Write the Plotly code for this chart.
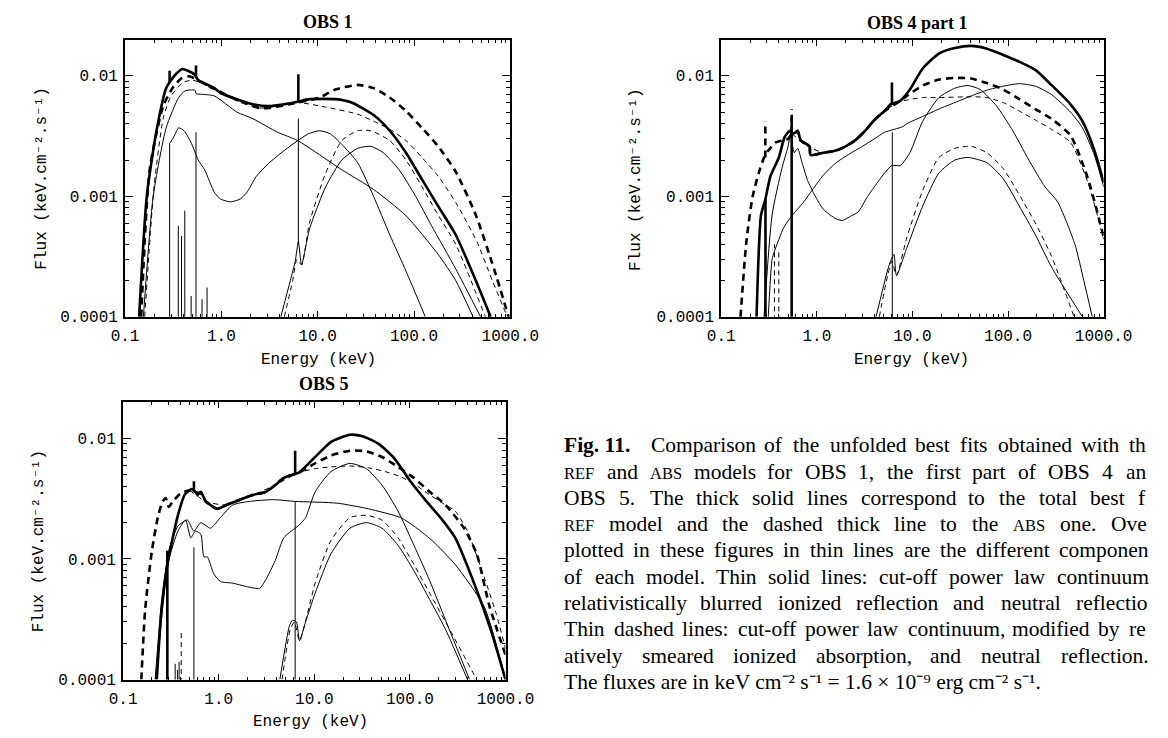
import math
import plotly.graph_objects as go

W, H = 1168, 738
FLOOR = 1e-5  # flux below the visible range (lines run off the bottom)

# ---------------- OBS 1 ----------------
obs1_ref_total_e = [0.14, 0.168, 0.212, 0.267, 0.30, 0.34, 0.392, 0.45, 0.53, 0.575, 0.68, 0.845, 0.98, 1.45, 2.13, 3.1, 4.5, 6.2, 8.25, 15.3, 22.4, 38.3, 56, 82.5, 121, 178, 271, 438, 624]
obs1_ref_total_f = [1e-4, 0.001, 0.0035, 0.0079, 0.0092, 0.0104, 0.0114, 0.0110, 0.0102, 0.0092, 0.0086, 0.0079, 0.0072, 0.0064, 0.0058, 0.0056, 0.0058, 0.0061, 0.0064, 0.0064, 0.0060, 0.0047, 0.0035, 0.0023, 0.00138, 0.00083, 0.00048, 0.0002, 0.0001]
obs1_abs_total_e = [0.147, 0.18, 0.247, 0.31, 0.39, 0.46, 0.53, 0.6, 0.845, 1.45, 2.5, 3.1, 4.5, 6.2, 8.25, 10.4, 15.3, 26, 38, 56, 82.5, 121, 178, 271, 438, 677, 960]
obs1_abs_total_f = [1e-4, 0.00166, 0.0055, 0.0079, 0.0096, 0.0099, 0.0095, 0.009, 0.0078, 0.0063, 0.0054, 0.0054, 0.0057, 0.006, 0.0063, 0.0066, 0.0077, 0.0084, 0.0079, 0.0066, 0.0051, 0.0037, 0.0026, 0.0016, 0.0007, 0.00025, 0.0001]
obs1_ref_pl_e = [0.155, 0.196, 0.267, 0.36, 0.42, 0.53, 0.55, 0.67, 0.85, 1.45, 2.13, 3.83, 6.2, 17.8, 38, 82.5, 178, 271, 410]
obs1_ref_pl_f = [1e-4, 0.001, 0.0037, 0.0066, 0.0075, 0.0076, 0.0071, 0.0070, 0.0068, 0.0050, 0.0044, 0.0034, 0.0029, 0.00166, 0.00114, 0.00069, 0.00033, 0.0002, 0.0001]
obs1_ref_ion_e = [0.29, 0.32, 0.36, 0.41, 0.49, 0.575, 0.67, 0.85, 0.98, 1.24, 1.57, 1.83, 2.3, 3.1, 4.5, 6.2, 8.0, 10.4, 13.5, 17.8, 26, 38, 56, 82.5, 131]
obs1_ref_ion_f = [0.00274, 0.0031, 0.0037, 0.0035, 0.00274, 0.0020, 0.00166, 0.00107, 0.00095, 0.0009, 0.00095, 0.00107, 0.00146, 0.00188, 0.0024, 0.0029, 0.0033, 0.0035, 0.0033, 0.0027, 0.0019, 0.0010, 0.00048, 0.00024, 0.0001]
obs1_ref_neu_e = [4.14, 5.2, 5.85, 6.3, 6.8, 8.25, 12.1, 17.8, 26, 35.5, 48, 70, 104, 152, 271, 491]
obs1_ref_neu_f = [1e-4, 0.0002, 0.00029, 0.00042, 0.00027, 0.00054, 0.0012, 0.002, 0.0025, 0.0026, 0.0023, 0.00166, 0.001, 0.00057, 0.00025, 0.0001]
obs1_abs_pl_e = [0.16, 0.2, 0.25, 0.3, 0.4, 0.5, 0.6, 0.85, 1.45, 2.5, 3.83, 6.2, 12.1, 26, 38, 56, 82.5, 121, 178, 271, 450, 650, 930]
obs1_abs_pl_f = [1e-4, 0.0012, 0.0045, 0.0068, 0.0088, 0.0092, 0.0088, 0.0076, 0.0062, 0.0054, 0.0056, 0.006, 0.0055, 0.0048, 0.0042, 0.0036, 0.0029, 0.0021, 0.00147, 0.00089, 0.00042, 0.0002, 0.0001]
obs1_abs_neu_e = [4.5, 5.5, 6.1, 6.8, 8.25, 12.1, 17.8, 26, 35.5, 56, 82.5, 121, 178, 271, 550]
obs1_abs_neu_f = [1e-4, 0.0002, 0.0003, 0.00027, 0.00061, 0.00156, 0.0029, 0.0035, 0.0035, 0.0029, 0.0020, 0.0012, 0.0007, 0.0004, 0.0001]
# narrow emission lines
obs1_thick_line_e = [0.29, 0.545, 6.3]
obs1_thick_line_base = [0.0088, 0.0098, 0.0061]
obs1_thick_line_top = [0.0110, 0.0122, 0.0103]
obs1_thin_line_e = [0.29, 0.357, 0.386, 0.417, 0.485, 0.545, 0.63, 0.71, 6.3]
obs1_thin_line_base = [FLOOR, FLOOR, FLOOR, FLOOR, FLOOR, FLOOR, FLOOR, FLOOR, 0.00040]
obs1_thin_line_top = [0.00274, 0.00057, 0.00047, 0.00076, 0.000149, 0.0034, 0.00014, 0.000175, 0.0044]

# ---------------- OBS 4 part 1 ----------------
obs4_ref_total_e = [0.234, 0.26, 0.29, 0.326, 0.40, 0.46, 0.52, 0.55, 0.6, 0.63, 0.68, 0.79, 0.84, 0.86, 1.17, 1.59, 2.0, 2.5, 3.2, 4.0, 5.1, 5.9, 7.45, 9.4, 12.8, 18.9, 27.8, 41, 60, 89, 131, 193, 284, 450, 600, 800, 1000]
obs4_ref_total_f = [1e-4, 0.00069, 0.00095, 0.00146, 0.0021, 0.0031, 0.0035, 0.0033, 0.0034, 0.0035, 0.0029, 0.0027, 0.0026, 0.0022, 0.0023, 0.0024, 0.0026, 0.0029, 0.0035, 0.0043, 0.0051, 0.0058, 0.0062, 0.0077, 0.0115, 0.0153, 0.0170, 0.0177, 0.0168, 0.0149, 0.0131, 0.0112, 0.0084, 0.0058, 0.0042, 0.0024, 0.0013]
obs4_abs_total_e = [0.159, 0.183, 0.213, 0.249, 0.28, 0.31, 0.37, 0.43, 0.50, 0.55, 0.6, 0.63, 0.68, 0.79, 0.84, 0.86, 1.17, 1.59, 2.0, 2.5, 3.2, 4.0, 5.1, 7.45, 8.7, 12.8, 18.9, 27.8, 41, 60, 89, 131, 193, 284, 450, 685, 1000]
obs4_abs_total_f = [1e-4, 0.00042, 0.001, 0.0016, 0.0021, 0.0024, 0.0028, 0.0029, 0.003, 0.0033, 0.0034, 0.0035, 0.0029, 0.0027, 0.0026, 0.0022, 0.0023, 0.0024, 0.0026, 0.0029, 0.0035, 0.0043, 0.0051, 0.0062, 0.0068, 0.0083, 0.0093, 0.0096, 0.0095, 0.0087, 0.0077, 0.0064, 0.0053, 0.0044, 0.0032, 0.0014, 0.00046]
obs4_ref_pl_e = [0.31, 0.34, 0.36, 0.45, 0.54, 0.73, 0.86, 1.17, 1.59, 2.3, 3.0, 4.0, 5.1, 6.5, 8.0, 8.7, 12.8, 18.9, 27.8, 41, 60, 89, 131, 193, 284, 450, 600, 800, 1000]
obs4_ref_pl_f = [1e-4, 0.0003, 0.00035, 0.00055, 0.00068, 0.0009, 0.00108, 0.0015, 0.0019, 0.0023, 0.0026, 0.0030, 0.0034, 0.0036, 0.0038, 0.0040, 0.0046, 0.0053, 0.0060, 0.0068, 0.0076, 0.0082, 0.0086, 0.0082, 0.0070, 0.0050, 0.0037, 0.0022, 0.0012]
obs4_ref_ion_e = [0.28, 0.34, 0.43, 0.50, 0.53, 0.58, 0.63, 0.70, 0.80, 0.86, 0.92, 1.17, 1.59, 1.85, 2.3, 2.7, 3.4, 4.3, 5.1, 6.1, 7.45, 9.4, 12.8, 18.9, 27.8, 38, 51, 76, 112, 165, 243, 330, 500, 620, 760]
obs4_ref_ion_f = [1e-4, 0.0007, 0.0017, 0.0026, 0.0033, 0.0023, 0.0025, 0.0019, 0.00135, 0.0012, 0.00107, 0.00078, 0.00065, 0.00063, 0.00069, 0.00074, 0.0010, 0.0013, 0.00156, 0.0018, 0.0018, 0.0023, 0.0042, 0.0066, 0.0079, 0.0083, 0.0077, 0.0056, 0.0035, 0.0020, 0.0012, 0.0009, 0.0004, 0.0002, 0.0001]
obs4_ref_neu_e = [4.16, 5.46, 5.9, 6.4, 6.8, 8.7, 12.8, 18.9, 27.8, 38, 60, 89, 131, 193, 284, 600]
obs4_ref_neu_f = [1e-4, 0.00024, 0.00029, 0.00033, 0.00022, 0.00037, 0.00083, 0.00156, 0.0020, 0.0021, 0.0019, 0.0014, 0.00083, 0.00048, 0.00026, 0.0001]
obs4_abs_pl_e = [0.55, 0.8, 1.2, 2.0, 3.2, 5.1, 7.45, 12.8, 18.9, 41, 60, 89, 131, 193, 284, 450, 685, 1000]
obs4_abs_pl_f = [0.0033, 0.0026, 0.0023, 0.0026, 0.0035, 0.0051, 0.0061, 0.0066, 0.0066, 0.0067, 0.0066, 0.0060, 0.0051, 0.0043, 0.0036, 0.0028, 0.0013, 0.00044]
obs4_abs_neu_e = [4.5, 5.5, 6.1, 6.8, 8.7, 12.8, 18.9, 27.8, 41, 60, 89, 131, 193, 284, 490]
obs4_abs_neu_f = [1e-4, 0.00022, 0.00029, 0.00022, 0.00045, 0.00112, 0.0021, 0.0025, 0.0026, 0.0023, 0.0017, 0.00103, 0.0006, 0.00032, 0.0001]
obs4_thick_line_e = [0.29, 0.545, 6.1]
obs4_thick_line_base = [FLOOR, FLOOR, 0.0058]
obs4_thick_line_top = [0.00095, 0.0045, 0.0088]
obs4_dash_line_e = [0.289, 0.545]
obs4_dash_line_base = [0.0021, 0.0033]
obs4_dash_line_top = [0.0042, 0.0053]
obs4_thin_line_e = [6.15]
obs4_thin_line_base = [FLOOR]
obs4_thin_line_top = [0.0034]
obs4_thindash_line_e = [0.36, 0.40]
obs4_thindash_line_base = [FLOOR, FLOOR]
obs4_thindash_line_top = [0.0004, 0.00035]

# ---------------- OBS 5 ----------------
obs5_ref_total_e = [0.225, 0.253, 0.284, 0.32, 0.374, 0.44, 0.49, 0.52, 0.57, 0.60, 0.65, 0.73, 0.82, 0.96, 1.2, 1.67, 2.3, 3.1, 3.9, 4.8, 5.9, 6.9, 10.2, 14.9, 23.6, 32, 47, 69, 101, 149, 219, 297, 480, 700, 1000]
obs5_ref_total_f = [1e-4, 0.0004, 0.00081, 0.00133, 0.0023, 0.0034, 0.0037, 0.0038, 0.0036, 0.0034, 0.0036, 0.0030, 0.0028, 0.0026, 0.0028, 0.0031, 0.0034, 0.0036, 0.0041, 0.0047, 0.0050, 0.0052, 0.0070, 0.0093, 0.0107, 0.0104, 0.0090, 0.0068, 0.0044, 0.0030, 0.0021, 0.0015, 0.0006, 0.00026, 0.0001]
obs5_abs_total_e = [0.155, 0.17, 0.2, 0.233, 0.26, 0.28, 0.30, 0.33, 0.4, 0.49, 0.55, 0.65, 0.73, 0.82, 0.96, 1.2, 1.67, 2.3, 3.1, 3.9, 4.8, 6.9, 10.2, 14.9, 23.6, 35, 51, 75, 110, 161, 236, 368, 500, 677, 1000]
obs5_abs_total_f = [1e-4, 0.00038, 0.00117, 0.0023, 0.0030, 0.0032, 0.0027, 0.0030, 0.0035, 0.0037, 0.0036, 0.0035, 0.0030, 0.0028, 0.0026, 0.0028, 0.0031, 0.0034, 0.0036, 0.0041, 0.0047, 0.0052, 0.0062, 0.0072, 0.0079, 0.0078, 0.0070, 0.0058, 0.0047, 0.0036, 0.0028, 0.0018, 0.0011, 0.00041, 0.00016]
obs5_ref_pl_e = [0.216, 0.25, 0.3, 0.374, 0.47, 0.55, 0.65, 0.82, 1.04, 1.4, 2.1, 3.75, 6.3, 17.4, 37, 80, 118, 174, 297, 600, 1000]
obs5_ref_pl_f = [1e-4, 0.0004, 0.00117, 0.00187, 0.0021, 0.0017, 0.0020, 0.0018, 0.0022, 0.0028, 0.0030, 0.0031, 0.0030, 0.0029, 0.0026, 0.0022, 0.0018, 0.0014, 0.0009, 0.0004, 0.0001]
obs5_ref_ion_e = [0.22, 0.26, 0.3, 0.374, 0.45, 0.51, 0.57, 0.65, 0.70, 0.76, 0.89, 1.04, 1.4, 1.95, 2.67, 3.1, 3.9, 4.8, 6.3, 6.9, 8.1, 10.2, 14.9, 23.6, 35, 51, 75, 110, 161, 236, 420]
obs5_ref_ion_f = [1e-4, 0.0004, 0.00097, 0.0017, 0.0021, 0.0015, 0.0017, 0.0016, 0.00104, 0.00104, 0.00075, 0.00065, 0.00063, 0.00059, 0.00057, 0.00067, 0.00097, 0.0015, 0.0018, 0.0019, 0.0022, 0.0036, 0.0053, 0.0062, 0.0056, 0.0041, 0.0025, 0.0013, 0.00066, 0.00031, 0.0001]
obs5_ref_neu_e = [4.36, 5.5, 5.9, 6.5, 7.0, 8.1, 10.2, 14.9, 23.6, 35, 51, 75, 110, 161, 236, 400]
obs5_ref_neu_f = [1e-4, 0.00028, 0.00031, 0.0003, 0.00021, 0.0003, 0.00052, 0.0011, 0.0018, 0.0020, 0.0018, 0.0013, 0.0008, 0.00046, 0.00026, 0.0001]
obs5_abs_pl_e = [0.5, 0.73, 1.2, 2.3, 3.9, 6.9, 10.2, 14.9, 23.6, 37, 55, 80, 110, 161, 236, 297, 400, 600, 800, 1000]
obs5_abs_pl_f = [0.0037, 0.0030, 0.0028, 0.0034, 0.0041, 0.0052, 0.0056, 0.0058, 0.0059, 0.0057, 0.0053, 0.0048, 0.0042, 0.0034, 0.0028, 0.0025, 0.0017, 0.0007, 0.00035, 0.00018]
obs5_abs_neu_e = [4.6, 5.6, 6.2, 7.0, 10.2, 14.9, 23.6, 35, 51, 75, 110, 161, 236, 500]
obs5_abs_neu_f = [1e-4, 0.00026, 0.0003, 0.00021, 0.00063, 0.00142, 0.0022, 0.0023, 0.0021, 0.0015, 0.0009, 0.00052, 0.0003, 0.0001]
obs5_thick_line_e = [0.29, 0.55, 6.3]
obs5_thick_line_base = [FLOOR, 0.0036, 0.0050]
obs5_thick_line_top = [0.00117, 0.0044, 0.0079]
obs5_thin_line_e = [0.35, 0.37, 0.385, 0.55, 6.3]
obs5_thin_line_base = [FLOOR, FLOOR, FLOOR, FLOOR, FLOOR]
obs5_thin_line_top = [0.000135, 0.00012, 0.00014, 0.00125, 0.0030]
obs5_thindash_line_e = [0.405]
obs5_thindash_line_base = [FLOOR]
obs5_thindash_line_top = [0.00025]

# ---------------- text ----------------
panel_titles = ["OBS 1", "OBS 4 part 1", "OBS 5"]
x_title = "Energy (keV)"
y_title = "Flux (keV.cm\u207b\u00b2.s\u207b\u00b9)"
x_tickvals = [0.1, 1, 10, 100, 1000]
x_ticktext = ["0.1", "1.0", "10.0", "100.0", "1000.0"]
y_tickvals = [1e-4, 1e-3, 1e-2]
y_ticktext = ["0.0001", "0.001", "0.01"]

# caption as visible in the (cropped) original: lines run to the right edge
caption_lines = [
    "Fig. 11. Comparison of the unfolded best fits obtained with th",
    "REF and ABS models for OBS 1, the first part of OBS 4 an",
    "OBS 5. The thick solid lines correspond to the total best f",
    "REF model and the dashed thick line to the ABS one. Ove",
    "plotted in these figures in thin lines are the different componen",
    "of each model. Thin solid lines: cut-off power law continuum",
    "relativistically blurred ionized reflection and neutral reflectio",
    "Thin dashed lines: cut-off power law continuum, modified by re",
    "atively smeared ionized absorption, and neutral reflection.",
]
caption_last = "The fluxes are in keV cm\u207b\u00b2 s\u207b\u00b9 = 1.6 \u00d7 10\u207b\u2079 erg cm\u207b\u00b2 s\u207b\u00b9."

# ---------------- styles / layout helpers ----------------
THICK = dict(color="black", width=2.6)
THICK_DASH = dict(color="black", width=2.6, dash="7px,5px")
THIN = dict(color="black", width=1)
THIN_DASH = dict(color="black", width=1, dash="5px,4px")

MONO = "Liberation Mono, DejaVu Sans Mono, monospace"
SERIF = "Liberation Serif, Times New Roman, serif"

fig = go.Figure()


def curve(e, f, style, n):
    fig.add_trace(go.Scatter(x=e, y=f, mode="lines", line=dict(style, shape="spline", smoothing=0.6),
                             xaxis="x" + n, yaxis="y" + n, showlegend=False, hoverinfo="skip"))


def spikes(es, bases, tops, style, n):
    xs, ys = [], []
    for e, b, t in zip(es, bases, tops):
        xs += [e, e, None]
        ys += [b, t, None]
    fig.add_trace(go.Scatter(x=xs, y=ys, mode="lines", line=style, connectgaps=False,
                             xaxis="x" + n, yaxis="y" + n, showlegend=False, hoverinfo="skip"))


# panel 1
n = ""
curve(obs1_ref_ion_e, obs1_ref_ion_f, THIN, n)
curve(obs1_ref_pl_e, obs1_ref_pl_f, THIN, n)
curve(obs1_ref_neu_e, obs1_ref_neu_f, THIN, n)
curve(obs1_abs_pl_e, obs1_abs_pl_f, THIN_DASH, n)
curve(obs1_abs_neu_e, obs1_abs_neu_f, THIN_DASH, n)
curve(obs1_abs_total_e, obs1_abs_total_f, THICK_DASH, n)
curve(obs1_ref_total_e, obs1_ref_total_f, THICK, n)
spikes(obs1_thin_line_e, obs1_thin_line_base, obs1_thin_line_top, THIN, n)
spikes(obs1_thick_line_e, obs1_thick_line_base, obs1_thick_line_top, THICK, n)

# panel 2
n = "2"
curve(obs4_ref_ion_e, obs4_ref_ion_f, THIN, n)
curve(obs4_ref_pl_e, obs4_ref_pl_f, THIN, n)
curve(obs4_ref_neu_e, obs4_ref_neu_f, THIN, n)
curve(obs4_abs_pl_e, obs4_abs_pl_f, THIN_DASH, n)
curve(obs4_abs_neu_e, obs4_abs_neu_f, THIN_DASH, n)
curve(obs4_abs_total_e, obs4_abs_total_f, THICK_DASH, n)
curve(obs4_ref_total_e, obs4_ref_total_f, THICK, n)
spikes(obs4_thin_line_e, obs4_thin_line_base, obs4_thin_line_top, THIN, n)
spikes(obs4_thindash_line_e, obs4_thindash_line_base, obs4_thindash_line_top, THIN_DASH, n)
spikes(obs4_dash_line_e, obs4_dash_line_base, obs4_dash_line_top, THICK_DASH, n)
spikes(obs4_thick_line_e, obs4_thick_line_base, obs4_thick_line_top, THICK, n)

# panel 3
n = "3"
curve(obs5_ref_ion_e, obs5_ref_ion_f, THIN, n)
curve(obs5_ref_pl_e, obs5_ref_pl_f, THIN, n)
curve(obs5_ref_neu_e, obs5_ref_neu_f, THIN, n)
curve(obs5_abs_pl_e, obs5_abs_pl_f, THIN_DASH, n)
curve(obs5_abs_neu_e, obs5_abs_neu_f, THIN_DASH, n)
curve(obs5_abs_total_e, obs5_abs_total_f, THICK_DASH, n)
curve(obs5_ref_total_e, obs5_ref_total_f, THICK, n)
spikes(obs5_thin_line_e, obs5_thin_line_base, obs5_thin_line_top, THIN, n)
spikes(obs5_thindash_line_e, obs5_thindash_line_base, obs5_thindash_line_top, THIN_DASH, n)
spikes(obs5_thick_line_e, obs5_thick_line_base, obs5_thick_line_top, THICK, n)

x_minor = [k * 10 ** p for p in range(-1, 3) for k in range(2, 10)]
y_minor = [k * 10 ** p for p in (-4, -3) for k in range(2, 10)]


def xaxis(domain, anchor):
    return dict(type="log", range=[-1, 3], domain=domain, anchor=anchor,
                showline=True, linecolor="black", linewidth=2, mirror="ticks",
                ticks="inside", ticklen=6, tickwidth=1.3, tickcolor="black",
                tickmode="array", tickvals=x_tickvals, ticktext=x_ticktext,
                minor=dict(ticks="inside", ticklen=3, tickwidth=1, tickcolor="black",
                           tickmode="array", tickvals=x_minor, showgrid=False),
                showgrid=False, zeroline=False, ticklabelstandoff=3,
                tickfont=dict(family=MONO, size=16, color="black"))


def yaxis(domain, anchor):
    return dict(type="log", range=[-4, math.log10(0.02)], domain=domain, anchor=anchor,
                showline=True, linecolor="black", linewidth=2, mirror="ticks",
                ticks="inside", ticklen=8, tickwidth=1.3, tickcolor="black",
                tickmode="array", tickvals=y_tickvals, ticktext=y_ticktext,
                minor=dict(ticks="inside", ticklen=4, tickwidth=1, tickcolor="black",
                           tickmode="array", tickvals=y_minor, showgrid=False),
                showgrid=False, zeroline=False, ticklabelstandoff=2,
                tickfont=dict(family=MONO, size=16, color="black"))


def px_x(v):
    return v / W


def px_y(v):
    return 1 - v / H


# panel frames in pixels: (left, right, top, bottom)
P1 = (107, 507, 32, 313.5)
P2 = (726, 1123, 32, 313.5)
P3 = (105, 502, 400, 681.7)

fig.update_layout(
    width=W, height=H, margin=dict(l=0, r=0, t=0, b=0),
    paper_bgcolor="white", plot_bgcolor="white",
    xaxis=xaxis([px_x(P1[0]), px_x(P1[1])], "y"),
    yaxis=yaxis([px_y(P1[3]), px_y(P1[2])], "x"),
    xaxis2=xaxis([px_x(P2[0]), px_x(P2[1])], "y2"),
    yaxis2=yaxis([px_y(P2[3]), px_y(P2[2])], "x2"),
    xaxis3=xaxis([px_x(P3[0]), px_x(P3[1])], "y3"),
    yaxis3=yaxis([px_y(P3[3]), px_y(P3[2])], "x3"),
)

ann = []


def text(x, y, s, size, family, angle=0, xanchor="center", yshift=0):
    ann.append(dict(x=px_x(x), y=px_y(y), xref="paper", yref="paper", text=s, showarrow=False,
                    xanchor=xanchor, yanchor="middle", textangle=angle, yshift=yshift,
                    font=dict(family=family, size=size, color="black")))


# panel titles, axis titles
text(318, 14.5, "<b>%s</b>" % panel_titles[0], 18, SERIF)
text(930, 15, "<b>%s</b>" % panel_titles[1], 18, SERIF)
text(314, 382, "<b>%s</b>" % panel_titles[2], 18, SERIF)
text(308, 357, x_title, 16, MONO)
text(924, 357, x_title, 16, MONO)
text(300, 725, x_title, 16, MONO)
text(21, 173, y_title, 16, MONO, angle=-90)
text(638, 174, y_title, 16, MONO, angle=-90)
text(18, 541, y_title, 16, MONO, angle=-90)

# caption (justified, word by word)
TW = {' ': 250, '!': 333, '(': 333, ')': 333, ',': 250, '-': 333, '.': 250, ':': 278, ';': 278,
      'A': 722, 'B': 667, 'C': 667, 'D': 722, 'E': 611, 'F': 556, 'G': 722, 'H': 722, 'I': 333,
      'J': 389, 'K': 722, 'L': 611, 'M': 889, 'N': 722, 'O': 722, 'P': 556, 'Q': 722, 'R': 667,
      'S': 556, 'T': 611, 'U': 722, 'V': 722, 'W': 944, 'X': 722, 'Y': 722, 'Z': 611,
      'a': 444, 'b': 500, 'c': 444, 'd': 500, 'e': 444, 'f': 333, 'g': 500, 'h': 500, 'i': 278,
      'j': 278, 'k': 500, 'l': 278, 'm': 778, 'n': 500, 'o': 500, 'p': 500, 'q': 500, 'r': 333,
      's': 389, 't': 278, 'u': 500, 'v': 500, 'w': 722, 'x': 500, 'y': 500, 'z': 444}
CAP = 21.5
SC = 16.5
CAP_L, CAP_R = 562, 1165
LINE0, LEAD = 444, 26.67


def tw(s, size):
    return sum(TW.get(c, 500) for c in s) * size / 1000.0


for i, line in enumerate(caption_lines):
    y = LINE0 + i * LEAD
    words = line.split(" ")
    if words[0] == "Fig.":
        words = ["Fig. 11."] + words[2:]
    items = []
    for w in words:
        if w in ("REF", "ABS"):
            items.append((w, SC, tw(w, SC), 1.5))
        elif w.startswith("Fig."):
            items.append(("<b>%s</b>" % w, CAP, tw(w, CAP) * 1.03 + 10, 0))
        else:
            items.append((w, CAP, tw(w, CAP), 0))
    total = sum(it[2] for it in items)
    gap = (CAP_R - CAP_L - total) / (len(items) - 1)
    x = CAP_L
    for s, size, wdt, ys in items:
        text(x - 1, y, s, size, SERIF, xanchor="left", yshift=-ys)
        x += wdt + gap

text(CAP_L - 1, LINE0 + 9 * LEAD, caption_last, CAP, SERIF, xanchor="left")

fig.update_layout(annotations=ann)
fig.write_html("out.html")
